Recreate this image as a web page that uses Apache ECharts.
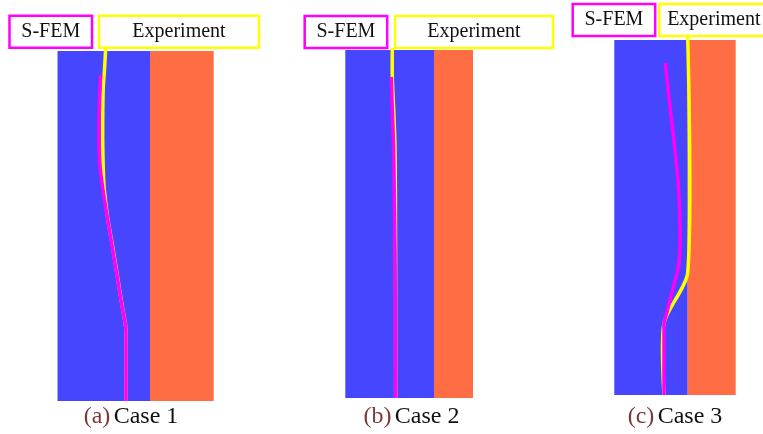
<!DOCTYPE html>
<html>
<head>
<meta charset="utf-8">
<script src="https://cdn.jsdelivr.net/npm/echarts@6/dist/echarts.min.js"></script>
<style>
  html, body { margin: 0; padding: 0; background: #ffffff; }
  #chart { width: 763px; height: 434px; }
</style>
</head>
<body>
<div id="chart"></div>
<script>
// Three specimens: steel part (blue) and concrete part (orange), crack paths on top.
const caseTags = ['(a)', '(b)', '(c)'];
const caseNames = ['Case 1', 'Case 2', 'Case 3'];
const seriesNames = ['S-FEM', 'Experiment'];

// Section widths and height (same length unit as the crack paths)
const blueWidth = [92.5, 88.7, 73.4];
const orangeWidth = [63.7, 39.0, 48.0];
const sectionHeight = [350, 348, 355];

// Crack paths as [x from left edge, depth from top edge]
const expCase1 = [[48.2, -3], [47.0, 19], [45.8, 36], [45.3, 59], [45.2, 89], [45.8, 119], [46.8, 139],
  [50.5, 169], [55.2, 196], [60.5, 229], [64.5, 254], [68.2, 276], [68.5, 290], [68.5, 350]];
const sfemCase1 = [[43.2, 24], [42.0, 49], [41.5, 89], [42.3, 114], [45.5, 139], [49.5, 164],
  [54.8, 196], [60.3, 229], [64.3, 254], [68.2, 276], [68.5, 290], [68.5, 350]];

const expCase2 = [[47.0, -2], [47.0, 28], [48.4, 60], [49.6, 93], [50.1, 150], [50.3, 250], [50.4, 348]];
const sfemCase2 = [[46.0, 27], [47.0, 60], [48.2, 93], [49.0, 143], [49.7, 200], [50.0, 250], [50.4, 348]];

const expCase3 = [[73.4, -4], [73.4, 233], [49.7, 283], [49.7, 355]];
const sfemCase3 = [[51.0, 23], [55.0, 60], [58.4, 90], [61.2, 115], [63.2, 135], [65.0, 163],
  [65.7, 197], [64.7, 223], [61.0, 240], [56.4, 257], [52.4, 273], [49.7, 283], [49.7, 290], [49.7, 355]];

const expPaths = [expCase1, expCase2, expCase3];
const sfemPaths = [sfemCase1, sfemCase2, sfemCase3];

// Layout (pixels)
const panelLeft = [57.5, 345.3, 614.3];
const panelTop = [51, 50, 40];
const labelTop = [15.7, 16, 4];
const labelHeight = 32;
const sfemBoxLeft = [9.5, 304.7, 572.7];
const sfemBoxWidth = 82.5;
const expBoxLeft = [99, 395, 659.3];
const expBoxWidth = [160, 158, 109];
const captionCenter = [131, 411.5, 675];
const captionY = 417;

const BLUE = '#4646FF';
const ORANGE = '#FF6D45';
const MAGENTA = '#FF00FF';
const YELLOW = '#FFFF00';
const SERIF = '"Liberation Serif", "DejaVu Serif", serif';

const grids = [], xAxes = [], yAxes = [], series = [], graphics = [];

// Crack path drawn as one smooth polyline through the axis scales
function pathSeries(i, points, color, name, z) {
  return {
    type: 'custom', name: name, xAxisIndex: i, yAxisIndex: i, silent: true, z: z,
    encode: { x: 0, y: 1 },
    data: points,
    renderItem: (params, api) => {
      if (params.dataIndex !== 0) return null;
      const pts = points.map(p => api.coord(p));
      return {
        type: 'polyline',
        shape: { points: pts, smooth: 0.25 },
        style: { stroke: color, lineWidth: 3.5, fill: null, lineJoin: 'round', lineCap: 'butt' }
      };
    }
  };
}

for (let i = 0; i < 3; i++) {
  const total = blueWidth[i] + orangeWidth[i];
  const labelBottom = labelTop[i] + labelHeight;
  const lead = panelTop[i] - labelBottom;
  grids.push({
    left: panelLeft[i], top: labelBottom,
    width: total, height: sectionHeight[i] + lead,
    containLabel: false
  });
  xAxes.push({ type: 'value', gridIndex: i, min: 0, max: total, show: false });
  yAxes.push({ type: 'value', gridIndex: i, min: -lead, max: sectionHeight[i], inverse: true, show: false });

  // Section blocks
  const blockColors = [BLUE, ORANGE];
  series.push({
    type: 'custom', xAxisIndex: i, yAxisIndex: i, silent: true, z: 1,
    encode: { x: [0, 1], y: 2 },
    data: [[0, blueWidth[i], sectionHeight[i]], [blueWidth[i], total, sectionHeight[i]]],
    renderItem: (params, api) => {
      const a = api.coord([api.value(0), 0]);
      const b = api.coord([api.value(1), api.value(2)]);
      return {
        type: 'rect',
        shape: { x: a[0], y: a[1], width: b[0] - a[0], height: b[1] - a[1] },
        style: { fill: blockColors[params.dataIndex] }
      };
    }
  });

  series.push(pathSeries(i, expPaths[i], YELLOW, seriesNames[1], 3));
  series.push(pathSeries(i, sfemPaths[i], MAGENTA, seriesNames[0], 4));

  // Legend boxes
  graphics.push({
    type: 'group', silent: true,
    children: [
      { type: 'rect', shape: { x: sfemBoxLeft[i], y: labelTop[i], width: sfemBoxWidth, height: labelHeight },
        style: { fill: '#ffffff', stroke: MAGENTA, lineWidth: 2.5 } },
      { type: 'text', x: sfemBoxLeft[i] + sfemBoxWidth / 2, y: labelTop[i] + labelHeight / 2,
        style: { text: seriesNames[0], font: '20px ' + SERIF, fill: '#111', align: 'center', verticalAlign: 'middle' } },
      { type: 'rect', shape: { x: expBoxLeft[i], y: labelTop[i], width: expBoxWidth[i], height: labelHeight },
        style: { fill: '#ffffff', stroke: YELLOW, lineWidth: 2.5 } },
      { type: 'text', x: expBoxLeft[i] + expBoxWidth[i] / 2, y: labelTop[i] + labelHeight / 2,
        style: { text: seriesNames[1], font: '20px ' + SERIF, fill: '#111', align: 'center', verticalAlign: 'middle' } }
    ]
  });

  // Caption
  graphics.push({
    type: 'text', silent: true, x: captionCenter[i], y: captionY,
    style: {
      text: '{tag|' + caseTags[i] + '} {name|' + caseNames[i] + '}',
      align: 'center', verticalAlign: 'middle',
      rich: {
        tag: { font: '24px ' + SERIF, fill: '#7a3a3a' },
        name: { font: '24px ' + SERIF, fill: '#111' }
      }
    }
  });
}

const chart = echarts.init(document.getElementById('chart'), null, { renderer: 'canvas' });
chart.setOption({
  animation: false,
  backgroundColor: '#ffffff',
  grid: grids,
  xAxis: xAxes,
  yAxis: yAxes,
  series: series,
  graphic: graphics
});
</script>
</body>
</html>
